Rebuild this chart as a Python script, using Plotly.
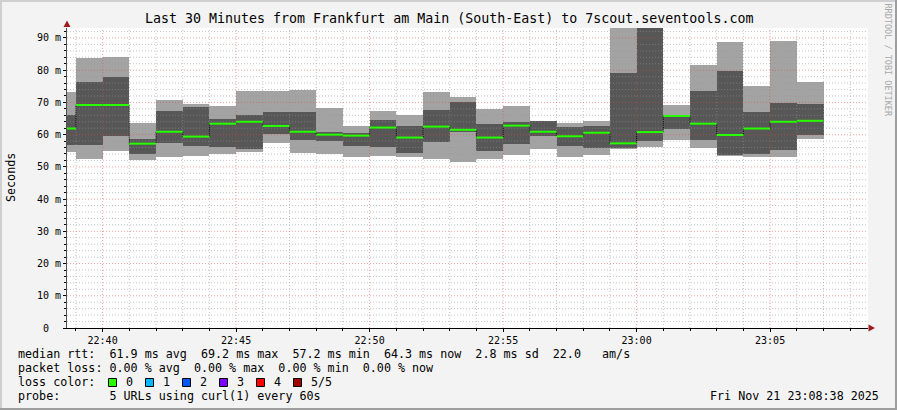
import plotly.graph_objects as go
from datetime import datetime, timedelta

# ---------------- data ----------------
DAY = "2025-11-21"
minutes = ["22:38", "22:39", "22:40", "22:41", "22:42", "22:43", "22:44", "22:45",
           "22:46", "22:47", "22:48", "22:49", "22:50", "22:51", "22:52", "22:53",
           "22:54", "22:55", "22:56", "22:57", "22:58", "22:59", "23:00", "23:01",
           "23:02", "23:03", "23:04", "23:05", "23:06"]
rtt_min = [54.7, 52.5, 54.9, 52.1, 53.2, 53.5, 54.0, 54.7, 57.5, 54.3,
           54.0, 53.2, 53.4, 53.2, 52.4, 51.6, 52.3, 53.7, 55.5, 53.0,
           53.7, 55.5, 56.2, 58.3, 55.9, 53.4, 53.1, 53.1, 58.7]
rtt_low = [56.8, 56.8, 59.6, 54.0, 57.3, 56.5, 56.3, 55.7, 60.2, 58.3,
           58.1, 56.5, 56.3, 54.4, 57.8, 60.9, 54.8, 57.1, 59.6, 56.5,
           56.0, 56.0, 58.0, 61.8, 58.3, 53.7, 54.0, 55.3, 59.9]
rtt_median = [61.9, 69.2, 69.2, 57.2, 60.9, 59.4, 63.4, 64.0, 62.7, 60.9,
              60.0, 59.7, 62.2, 59.1, 62.5, 61.5, 59.1, 62.8, 60.9, 59.5,
              60.6, 57.3, 60.8, 65.8, 63.4, 59.9, 61.9, 64.0, 64.3]
rtt_high = [66.1, 76.3, 77.9, 58.5, 67.3, 68.5, 64.9, 66.0, 67.0, 67.1,
            60.9, 60.6, 64.6, 62.7, 67.7, 70.0, 63.3, 63.9, 64.1, 62.3,
            62.7, 79.2, 96.0, 66.1, 73.7, 79.9, 67.0, 69.9, 69.5]
rtt_max = [73.1, 83.9, 84.2, 63.7, 70.8, 69.5, 68.9, 73.7, 73.7, 73.9,
           68.3, 62.7, 67.3, 66.1, 73.3, 71.8, 67.9, 68.9, 64.2, 63.7,
           64.2, 98.0, 104.0, 69.2, 81.6, 88.8, 75.1, 89.1, 76.3]

x_tick_labels = ["22:40", "22:45", "22:50", "22:55", "23:00", "23:05"]
y_tick_values = [0, 10, 20, 30, 40, 50, 60, 70, 80, 90]
y_tick_labels = ["0\u00a0\u00a0", "10 m", "20 m", "30 m", "40 m", "50 m",
                 "60 m", "70 m", "80 m", "90 m"]

title_text = "Last 30 Minutes from Frankfurt am Main (South-East) to 7scout.seventools.com"
legend_lines = [
    "median rtt:  61.9 ms avg  69.2 ms max  57.2 ms min  64.3 ms now  2.8 ms sd  22.0   am/s",
    "packet loss: 0.00 % avg  0.00 % max  0.00 % min  0.00 % now",
    "loss color:",
    "probe:       5 URLs using curl(1) every 60s",
]
loss_labels = ["0", "1", "2", "3", "4", "5/5"]
loss_colors = ["#26ff00", "#00b8ff", "#0059ff", "#7e00ff", "#ff0000", "#a10000"]
stamp_text = "Fri Nov 21 23:08:38 2025"

# ---------------- geometry helpers ----------------
FIG_W, FIG_H = 897, 410
ML, MR, MT, MB = 67, 29, 28, 82
PW, PH = FIG_W - ML - MR, FIG_H - MT - MB


def px2x(px):
    return (px - ML) / PW


def py2y(py):
    return (MT + PH - py) / PH


MONO = "DejaVu Sans Mono"
STEP = timedelta(seconds=60)
starts = [datetime.strptime(f"{DAY} {m}", "%Y-%m-%d %H:%M") for m in minutes]
centers = [s + STEP / 2 for s in starts]
ends = [s + STEP for s in starts]
X0 = datetime.strptime(f"{DAY} 22:38:40", "%Y-%m-%d %H:%M:%S")
X1 = datetime.strptime(f"{DAY} 23:08:40", "%Y-%m-%d %H:%M:%S")
Y1 = 93.1

fig = go.Figure()

# smoke: outer (min..max) and inner (low..high)
fig.add_trace(go.Bar(x=centers, base=rtt_min,
                     y=[h - l for h, l in zip(rtt_max, rtt_min)],
                     width=STEP.total_seconds() * 1000,
                     marker=dict(color="#a3a3a3", line=dict(width=0)),
                     hoverinfo="skip"))
fig.add_trace(go.Bar(x=centers, base=rtt_low,
                     y=[h - l for h, l in zip(rtt_high, rtt_low)],
                     width=STEP.total_seconds() * 1000,
                     marker=dict(color="#575757", line=dict(width=0)),
                     hoverinfo="skip"))

# grid drawn over the smoke (as rrdtool does)
minor_x, major_x = [], []
t = datetime.strptime(f"{DAY} 22:39", "%Y-%m-%d %H:%M")
while t <= X1:
    target = major_x if t.minute % 5 == 0 else minor_x
    target += [t, t, None]
    t += STEP
minor_y, major_y = [], []
for v in range(2, 94, 2):
    target = major_y if v % 10 == 0 else minor_y
    target += [v, v, None]
vy = [0, Y1, None]
fig.add_trace(go.Scatter(x=minor_x, y=vy * (len(minor_x) // 3), mode="lines",
                         line=dict(color="rgba(150,150,150,0.55)", width=1, dash="1px,2px"),
                         hoverinfo="skip"))
fig.add_trace(go.Scatter(x=[X0, X1, None] * (len(minor_y) // 3), y=minor_y, mode="lines",
                         line=dict(color="rgba(150,150,150,0.55)", width=1, dash="1px,2px"),
                         hoverinfo="skip"))
fig.add_trace(go.Scatter(x=major_x, y=vy * (len(major_x) // 3), mode="lines",
                         line=dict(color="rgba(225,70,70,0.5)", width=1, dash="1px,2px"),
                         hoverinfo="skip"))
fig.add_trace(go.Scatter(x=[X0, X1, None] * (len(major_y) // 3), y=major_y, mode="lines",
                         line=dict(color="rgba(225,70,70,0.5)", width=1, dash="1px,2px"),
                         hoverinfo="skip"))

# median: dotted black step connector + green segments
fig.add_trace(go.Scatter(x=starts + [ends[-1]], y=rtt_median + [rtt_median[-1]],
                         mode="lines", line=dict(color="#000000", width=1, dash="1px,1px", shape="hv"),
                         hoverinfo="skip"))
gx, gy = [], []
for s, e, m in zip(starts, ends, rtt_median):
    gx += [s, e, None]
    gy += [m, m, None]
fig.add_trace(go.Scatter(x=gx, y=gy, mode="lines",
                         line=dict(color="#26ff00", width=2), hoverinfo="skip"))

# ---------------- axes ----------------
fig.update_xaxes(type="date", range=[X0, X1], showgrid=False, zeroline=False,
                 tickvals=[datetime.strptime(f"{DAY} {l}", "%Y-%m-%d %H:%M") for l in x_tick_labels],
                 ticktext=x_tick_labels, ticks="outside", ticklen=3, tickcolor="#000",
                 minor=dict(ticks="outside", ticklen=2, dtick=60000,
                            tick0=f"{DAY} 22:39:00", tickcolor="#000", showgrid=False),
                 showline=True, linecolor="#000000", linewidth=1,
                 tickfont=dict(family=MONO, size=10, color="#000"))
fig.update_yaxes(range=[0, Y1], showgrid=False, zeroline=False,
                 tickvals=y_tick_values, ticktext=y_tick_labels,
                 ticks="outside", ticklen=3, tickcolor="#000",
                 minor=dict(ticks="outside", ticklen=2, dtick=2, tick0=0,
                            tickcolor="#000", showgrid=False),
                 showline=True, linecolor="#505050", linewidth=1,
                 tickfont=dict(family=MONO, size=10, color="#000"))

# ---------------- texts ----------------
NB = "\u00a0"
ann = []
ann.append(dict(text=title_text.replace(" ", NB), x=px2x(448.5), y=py2y(19),
                xanchor="center", yanchor="middle",
                font=dict(family=MONO, size=13.3, color="#000")))
ann.append(dict(text="Seconds", x=px2x(10.5), y=py2y(177.5), textangle=-90,
                xanchor="center", yanchor="middle",
                font=dict(family=MONO, size=11.7, color="#000")))
ann.append(dict(text="RRDTOOL / TOBI OETIKER".replace(" ", NB), x=px2x(887.5), y=py2y(60),
                textangle=90, xanchor="center", yanchor="middle",
                font=dict(family=MONO, size=8.5, color="#a8a8a8")))
for i, line in enumerate(legend_lines):
    ann.append(dict(text=line.replace(" ", NB), x=px2x(15.5), y=py2y(354.3 + 14 * i),
                    xanchor="left", yanchor="middle",
                    font=dict(family=MONO, size=11.7, color="#000")))
ann.append(dict(text=stamp_text.replace(" ", NB), x=px2x(881), y=py2y(396.3),
                xanchor="right", yanchor="middle",
                font=dict(family=MONO, size=11.7, color="#000")))

shapes = []
for i, (lab, col) in enumerate(zip(loss_labels, loss_colors)):
    bx = 108.5 + 37 * i
    shapes.append(dict(type="rect", xref="paper", yref="paper",
                       x0=px2x(bx), x1=px2x(bx + 8), y0=py2y(386.5), y1=py2y(378.5),
                       fillcolor=col, line=dict(color="#000", width=1), layer="above"))
    ann.append(dict(text=lab, x=px2x(bx + 15), y=py2y(382.3), xanchor="left", yanchor="middle",
                    font=dict(family=MONO, size=11.7, color="#000")))

for a in ann:
    a.update(xref="paper", yref="paper", showarrow=False)

# frame shading
frame = [((0, 0, FIG_W, 2), "#cfcfcf"), ((0, 0, 2, FIG_H), "#cfcfcf"),
         ((0, FIG_H - 2, FIG_W, FIG_H), "#9e9e9e"), ((FIG_W - 2, 0, FIG_W, FIG_H), "#9e9e9e")]
for (a0, b0, a1, b1), col in frame:
    shapes.append(dict(type="rect", xref="paper", yref="paper",
                       x0=px2x(a0), x1=px2x(a1), y0=py2y(b0), y1=py2y(b1),
                       fillcolor=col, line=dict(width=0), layer="above"))
# axis arrows
shapes.append(dict(type="path", xref="paper", yref="paper", fillcolor="#a01c1c",
                   line=dict(width=0), layer="above",
                   path=f"M {px2x(63.5)} {py2y(27)} L {px2x(70.5)} {py2y(27)} L {px2x(67)} {py2y(20.5)} Z"))
shapes.append(dict(type="path", xref="paper", yref="paper", fillcolor="#a01c1c",
                   line=dict(width=0), layer="above",
                   path=f"M {px2x(868.5)} {py2y(324.5)} L {px2x(868.5)} {py2y(331.5)} L {px2x(875)} {py2y(328)} Z"))

fig.update_layout(width=FIG_W, height=FIG_H, autosize=False,
                  margin=dict(l=ML, r=MR, t=MT, b=MB, pad=0),
                  paper_bgcolor="#f3f3f3", plot_bgcolor="#ffffff",
                  barmode="overlay", bargap=0, showlegend=False,
                  annotations=ann, shapes=shapes)

fig.write_html("out.html", config={"displayModeBar": False, "staticPlot": True},
               post_script="document.body.style.margin='0';document.body.style.padding='0';"
                           "document.body.style.overflow='hidden';")
